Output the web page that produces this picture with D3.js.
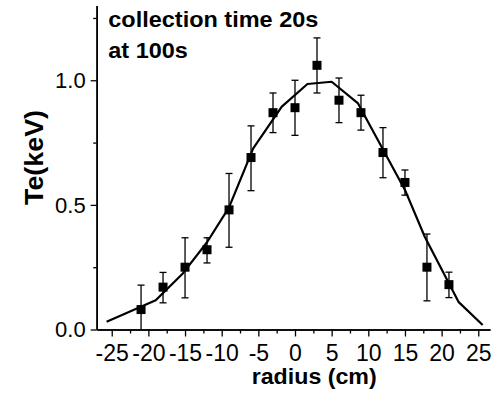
<!DOCTYPE html>
<html>
<head>
<meta charset="utf-8">
<script src="https://cdn.jsdelivr.net/npm/d3@7/dist/d3.min.js"></script>
<style>
  html, body { margin: 0; padding: 0; background: #fff; }
  svg { display: block; }
  text { font-family: "Liberation Sans", Arial, sans-serif; fill: #000; }
</style>
</head>
<body>
<svg id="chart" width="492" height="395"></svg>
<script>
// ---- data ----
const radius = [-21, -18, -15, -12, -9, -6, -3, 0, 3, 6, 9, 12, 15, 18, 21];
const te     = [0.08, 0.17, 0.25, 0.32, 0.48, 0.69, 0.87, 0.89, 1.06, 0.92, 0.87, 0.71, 0.59, 0.25, 0.18];
const teHigh = [0.178, 0.229, 0.368, 0.368, 0.626, 0.817, 0.949, 1.0, 1.17, 1.009, 0.94, 0.81, 0.64, 0.383, 0.23];
const teLow  = [0.0, 0.107, 0.127, 0.267, 0.33, 0.557, 0.79, 0.779, 0.949, 0.83, 0.80, 0.609, 0.539, 0.115, 0.128];

const fitRadius = [-25.7, -19, -15.3, -12, -9, -5.7, -1.8, 1.7, 5.0, 8.6, 15, 17.7, 22.3, 25.6];
const fitTe     = [0.031, 0.117, 0.225, 0.35, 0.49, 0.727, 0.894, 0.985, 0.994, 0.907, 0.56, 0.372, 0.111, 0.018];

const xMajorTicks = [-25, -20, -15, -10, -5, 0, 5, 10, 15, 20, 25];
const xMinorTicks = [-22.5, -17.5, -12.5, -7.5, -2.5, 2.5, 7.5, 12.5, 17.5, 22.5];
const yMajorTicks = [0, 0.5, 1.0];
const yMinorTicks = [0.25, 0.75, 1.25];

const titleLines = ["collection time 20s", "at 100s"];
const xTitle = "radius (cm)";
const yTitle = "Te(keV)";

// ---- chart ----
const svg = d3.select("#chart");
const x = d3.scaleLinear().domain([-27.05, 26.6]).range([96.7, 490]);
const y = d3.scaleLinear().domain([0, 1.3]).range([329.5, 5.5]);

// axes
const gx = svg.append("g").attr("transform", `translate(0,${y(0)})`);
gx.call(d3.axisBottom(x).tickValues(xMinorTicks).tickSize(4).tickSizeOuter(0).tickFormat(""));
const gxM = svg.append("g").attr("transform", `translate(0,${y(0)})`);
gxM.call(d3.axisBottom(x).tickValues(xMajorTicks).tickSize(7).tickSizeOuter(0).tickPadding(8.5).tickFormat(d3.format("d")));
gxM.selectAll("text").style("font-size", "23px").text(d => String(d).replace("\u2212", "-"));

const gy = svg.append("g").attr("transform", `translate(${x.range()[0]},0)`);
gy.call(d3.axisLeft(y).tickValues(yMinorTicks).tickSize(3.5).tickSizeOuter(0).tickFormat(""));
const gyM = svg.append("g").attr("transform", `translate(${x.range()[0]},0)`);
gyM.call(d3.axisLeft(y).tickValues(yMajorTicks).tickSize(6).tickSizeOuter(0).tickPadding(5).tickFormat(d3.format(".1f")));
gyM.selectAll("text").style("font-size", "22px").attr("dy", "0.33em");

svg.selectAll(".domain").attr("stroke", "#000").attr("stroke-width", 1.6);
svg.selectAll(".tick line").attr("stroke", "#000").attr("stroke-width", 1.3);

// fit line
const line = d3.line().x(d => x(d[0])).y(d => y(d[1]));
svg.append("path")
  .datum(fitRadius.map((r, i) => [r, fitTe[i]]))
  .attr("d", line)
  .attr("fill", "none")
  .attr("stroke", "#000")
  .attr("stroke-width", 2.2)
  .attr("stroke-linejoin", "round");

// error bars
const pts = radius.map((r, i) => ({ r, v: te[i], lo: teLow[i], hi: teHigh[i] }));
const eb = svg.append("g").attr("stroke", "#000").attr("stroke-width", 1.3);
eb.selectAll(".v").data(pts).join("line")
  .attr("x1", d => x(d.r)).attr("x2", d => x(d.r))
  .attr("y1", d => y(d.lo)).attr("y2", d => y(d.hi));
const capW = 3.5;
eb.selectAll(".ct").data(pts).join("line")
  .attr("x1", d => x(d.r) - capW).attr("x2", d => x(d.r) + capW)
  .attr("y1", d => y(d.hi)).attr("y2", d => y(d.hi));
eb.selectAll(".cb").data(pts.filter(d => d.lo > 0)).join("line")
  .attr("x1", d => x(d.r) - capW).attr("x2", d => x(d.r) + capW)
  .attr("y1", d => y(d.lo)).attr("y2", d => y(d.lo));

// markers
const ms = 9;
svg.append("g").selectAll("rect").data(pts).join("rect")
  .attr("x", d => x(d.r) - ms / 2).attr("y", d => y(d.v) - ms / 2)
  .attr("width", ms).attr("height", ms).attr("fill", "#000");

// titles
svg.append("text").attr("x", 108.3).attr("y", 27.3)
  .attr("textLength", 210).attr("lengthAdjust", "spacingAndGlyphs")
  .style("font-size", "22.5px").style("font-weight", "bold").text(titleLines[0]);
svg.append("text").attr("x", 108.3).attr("y", 58.3)
  .attr("textLength", 79.5).attr("lengthAdjust", "spacingAndGlyphs")
  .style("font-size", "22.5px").style("font-weight", "bold").text(titleLines[1]);

svg.append("text").attr("x", 314.2).attr("y", 384).attr("text-anchor", "middle")
  .attr("textLength", 125).attr("lengthAdjust", "spacingAndGlyphs")
  .style("font-size", "22.5px").style("font-weight", "bold").text(xTitle);

svg.append("text").attr("transform", "translate(43.3,157.5) rotate(-90)").attr("text-anchor", "middle")
  .attr("textLength", 95).attr("lengthAdjust", "spacingAndGlyphs")
  .style("font-size", "25px").style("font-weight", "bold").text(yTitle);
</script>
</body>
</html>
